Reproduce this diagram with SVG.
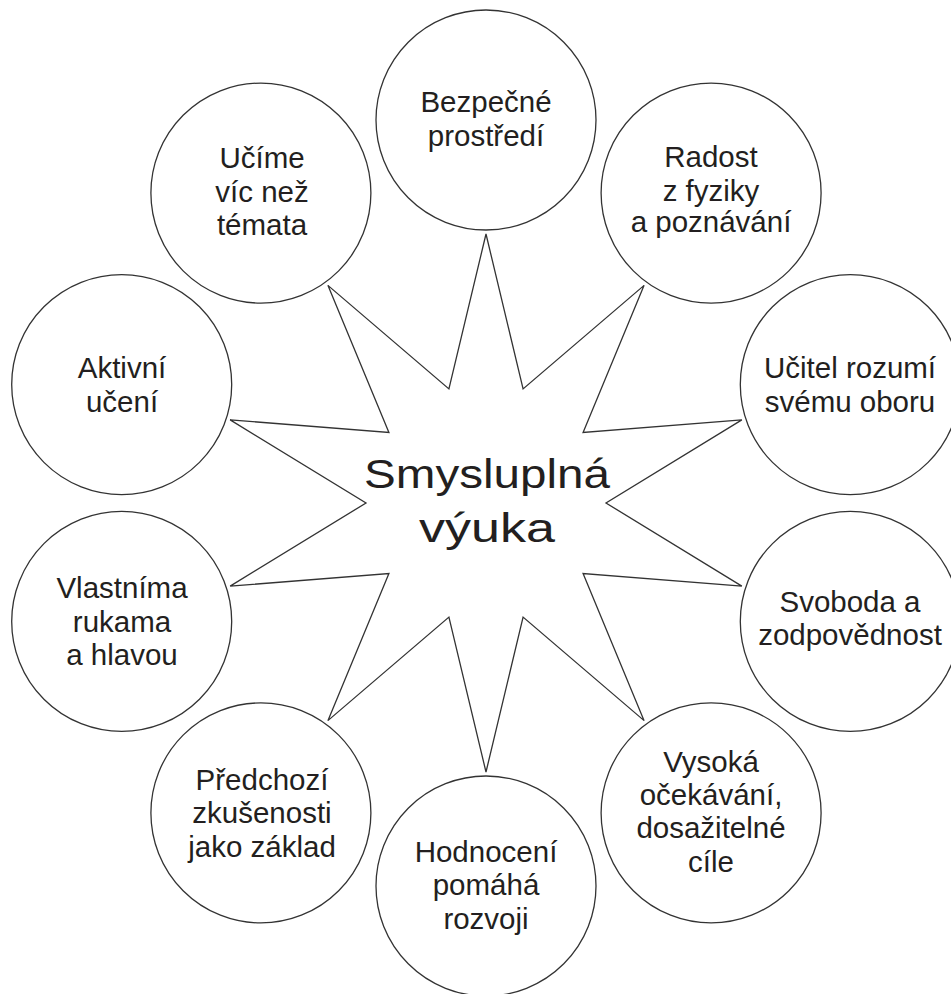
<svg xmlns="http://www.w3.org/2000/svg" width="951" height="994" viewBox="0 0 951 994">
<style>
.bg{fill:#ffffff}
.node circle{fill:#ffffff;stroke:#333333;stroke-width:1.3}
.star{fill:#ffffff;stroke:#333333;stroke-width:1.3;stroke-linejoin:miter}
.lbl{font-family:"Liberation Sans",Arial,sans-serif;font-size:29.5px;fill:#231f20;text-anchor:middle}
.title{font-family:"Liberation Sans",Arial,sans-serif;font-size:40px;fill:#231f20;text-anchor:middle}
</style>
<rect class="bg" x="0" y="0" width="951" height="994"/>
<g id="center">
<polygon class="star" points="486,234 523.08,388.87 644.11,285.37 583.08,432.47 741.83,419.87 606,503 741.83,586.13 583.08,573.53 644.11,720.63 523.08,617.13 486,772 448.92,617.13 327.89,720.63 388.92,573.53 230.17,586.13 366,503 230.17,419.87 388.92,432.47 327.89,285.37 448.92,388.87"/>
<text class="title"><tspan x="487" y="488" textLength="246" lengthAdjust="spacingAndGlyphs">Smysluplná</tspan><tspan x="487" y="542" textLength="136" lengthAdjust="spacingAndGlyphs">výuka</tspan></text>
</g>
<g id="connectors"></g>
<g id="n-bezpecne" class="node">
<circle cx="486" cy="120" r="110"/>
<text class="lbl"><tspan x="486" y="112">Bezpečné</tspan><tspan x="486" y="146">prostředí</tspan></text>
</g>
<g id="n-radost" class="node">
<circle cx="711.1" cy="193.1" r="110"/>
<text class="lbl"><tspan x="711" y="167">Radost</tspan><tspan x="711" y="201">z fyziky</tspan><tspan x="711" y="232">a poznávání</tspan></text>
</g>
<g id="n-ucitel" class="node">
<circle cx="850.3" cy="384.6" r="110"/>
<text class="lbl"><tspan x="850" y="378">Učitel rozumí</tspan><tspan x="850" y="412">svému oboru</tspan></text>
</g>
<g id="n-svoboda" class="node">
<circle cx="850.3" cy="621.4" r="110"/>
<text class="lbl"><tspan x="850" y="612">Svoboda a</tspan><tspan x="850" y="645">zodpovědnost</tspan></text>
</g>
<g id="n-vysoka" class="node">
<circle cx="711.1" cy="812.9" r="110"/>
<text class="lbl"><tspan x="711" y="772">Vysoká</tspan><tspan x="711" y="805">očekávání,</tspan><tspan x="711" y="838">dosažitelné</tspan><tspan x="711" y="872">cíle</tspan></text>
</g>
<g id="n-hodnoceni" class="node">
<circle cx="486" cy="886" r="110"/>
<text class="lbl"><tspan x="486" y="862">Hodnocení</tspan><tspan x="486" y="895">pomáhá</tspan><tspan x="486" y="929">rozvoji</tspan></text>
</g>
<g id="n-predchozi" class="node">
<circle cx="260.9" cy="812.9" r="110"/>
<text class="lbl"><tspan x="262" y="790">Předchozí</tspan><tspan x="262" y="823">zkušenosti</tspan><tspan x="262" y="857">jako základ</tspan></text>
</g>
<g id="n-vlastnima" class="node">
<circle cx="121.7" cy="621.4" r="110"/>
<text class="lbl"><tspan x="122" y="598">Vlastníma</tspan><tspan x="122" y="632">rukama</tspan><tspan x="122" y="665">a hlavou</tspan></text>
</g>
<g id="n-aktivni" class="node">
<circle cx="121.7" cy="384.6" r="110"/>
<text class="lbl"><tspan x="122" y="378">Aktivní</tspan><tspan x="122" y="412">učení</tspan></text>
</g>
<g id="n-ucime" class="node">
<circle cx="260.9" cy="193.1" r="110"/>
<text class="lbl"><tspan x="262" y="168">Učíme</tspan><tspan x="262" y="202">víc než</tspan><tspan x="262" y="235">témata</tspan></text>
</g>
</svg>
